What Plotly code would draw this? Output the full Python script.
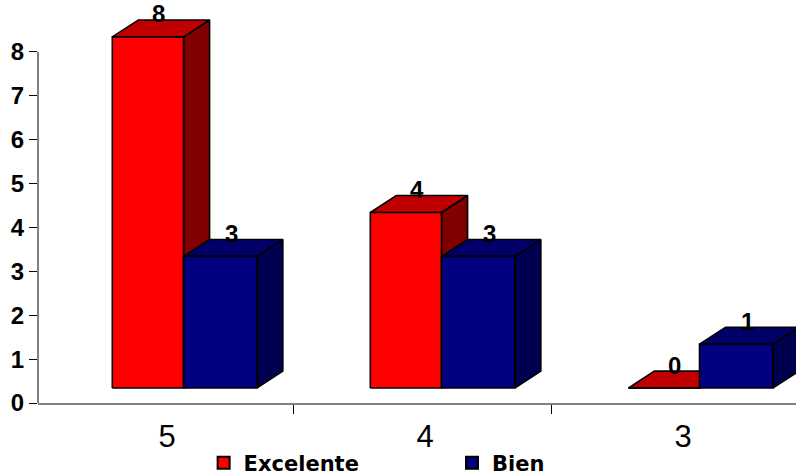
import plotly.graph_objects as go

categories = ["5", "4", "3"]
excelente = [8, 4, 0]
bien = [3, 3, 1]
series_names = ["Excelente", "Bien"]
y_ticks = [0, 1, 2, 3, 4, 5, 6, 7, 8]

# styling / geometry (not data)
front_colors = ["#FF0000", "#000080"]
top_colors = ["#C00000", "#000068"]
side_colors = ["#800000", "#000050"]
offsets = [(-0.212, 0.064), (0.064, 0.348)]
base = 0.34
dx = 0.101
dy = 0.386

PX_X = 258.0
PX_Y = 43.9
plot_w = 758
plot_h = 403

fig = go.Figure()

FONT = "Liberation Sans, Arial, sans-serif"


def poly(xs, ys, color):
    fig.add_trace(go.Scatter(
        x=xs + [xs[0]], y=ys + [ys[0]], mode="lines", fill="toself",
        fillcolor=color, line=dict(color="black", width=1.6),
        hoverinfo="skip", showlegend=False))


annotations = []
for ci, cat in enumerate(categories):
    for si, vals in enumerate([excelente, bien]):
        v = vals[ci]
        x0 = ci + offsets[si][0]
        x1 = ci + offsets[si][1]
        b = base
        t = base + v
        # side face
        poly([x1, x1 + dx, x1 + dx, x1], [b, b + dy, t + dy, t], side_colors[si])
        # top face
        poly([x0, x1, x1 + dx, x0 + dx], [t, t, t + dy, t + dy], top_colors[si])
        # front face
        poly([x0, x1, x1, x0], [b, b, t, t], front_colors[si])
        annotations.append(dict(
            x=(x0 + x1 + dx) / 2, y=t + dy, xref="x", yref="y",
            text=str(v), showarrow=False, yanchor="middle", xanchor="center",
            yshift=6, xshift=-2,
            font=dict(family=FONT, size=24, color="black", weight="bold")))

# legend entries (one legend per series)
legend_ids = ["legend", "legend2"]
for si, name in enumerate(series_names):
    fig.add_trace(go.Bar(
        x=[None], y=[None], name=name, legend=legend_ids[si],
        marker=dict(color=front_colors[si], line=dict(color="black", width=2))))

legend_font = dict(family="DejaVu Sans, Arial", size=21, color="black", weight="bold")
fig.update_layout(
    width=796, height=476,
    margin=dict(l=38, r=0, t=0, b=73, autoexpand=False),
    paper_bgcolor="white", plot_bgcolor="white",
    showlegend=True,
    legend=dict(x=0.2185, xanchor="left", y=-0.149, yanchor="middle",
                font=legend_font, bgcolor="rgba(0,0,0,0)"),
    legend2=dict(x=0.5462, xanchor="left", y=-0.149, yanchor="middle",
                 font=legend_font, bgcolor="rgba(0,0,0,0)"),
    annotations=annotations,
    shapes=[dict(type="line", xref="paper", yref="y", x0=0, x1=0, y0=0, y1=8,
                 line=dict(color="black", width=1))],
    xaxis=dict(
        range=[-0.5, -0.5 + plot_w / PX_X],
        tickvals=[0, 1, 2], ticktext=categories,
        ticks="", showgrid=False, zeroline=False,
        showline=True, linecolor="#808080", linewidth=2,
        tickfont=dict(family=FONT, size=31, color="black"),
        ticklabelstandoff=5,
        minor=dict(tickvals=[0.49, 1.49], ticks="outside", ticklen=9,
                   tickcolor="black", tickwidth=1),
        fixedrange=True),
    yaxis=dict(
        range=[0, plot_h / PX_Y],
        tickvals=y_ticks, ticktext=[str(v) for v in y_ticks],
        ticks="outside", ticklen=8, tickcolor="black", tickwidth=1,
        showgrid=False, zeroline=False, showline=False,
        tickfont=dict(family=FONT, size=24, color="black", weight="bold"),
        fixedrange=True),
)

fig.write_html("out.html")
